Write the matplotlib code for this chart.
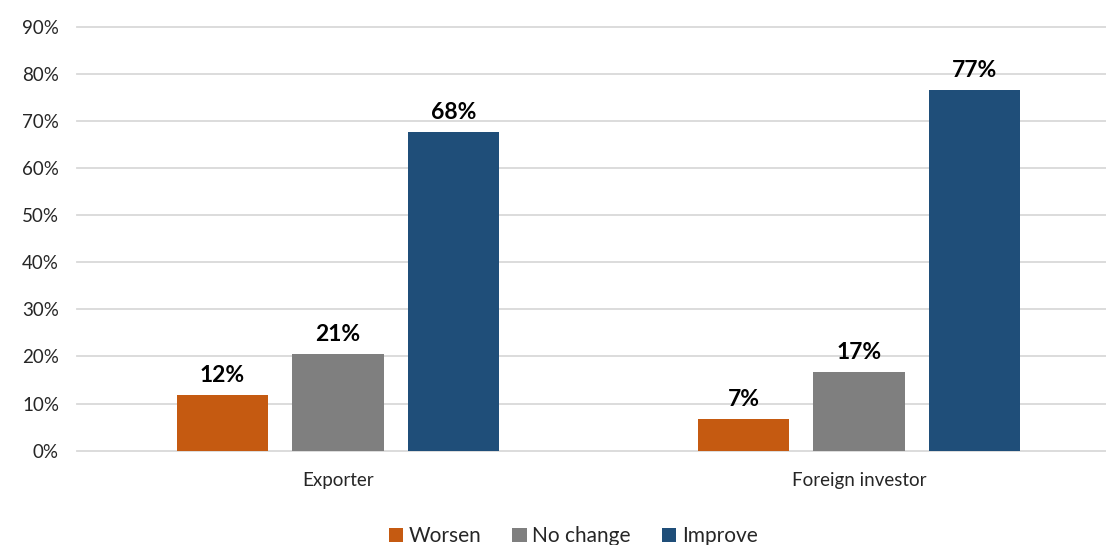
import matplotlib
matplotlib.use("Agg")
import matplotlib.pyplot as plt
from matplotlib.patches import Patch
import numpy as np

plt.rcParams["font.family"] = ["Lato", "DejaVu Sans"]

categories = ["Exporter", "Foreign investor"]
series = ["Worsen", "No change", "Improve"]
worsen = [0.119, 0.068]
no_change = [0.206, 0.168]
improve = [0.677, 0.766]
labels = [["12%", "7%"], ["21%", "17%"], ["68%", "77%"]]
colors = ["#C55A11", "#7F7F7F", "#1F4E79"]
yticks = [0.0, 0.1, 0.2, 0.3, 0.4, 0.5, 0.6, 0.7, 0.8, 0.9]

W, H = 1106, 545
fig = plt.figure(figsize=(W / 100, H / 100), dpi=100)
ax = fig.add_axes([77 / W, (H - 450.7) / H, (W - 77) / W, (450.7 - 26.7) / H])

x = np.arange(len(categories))
width = 0.175
step = 0.222
for i, (vals, name) in enumerate(zip([worsen, no_change, improve], series)):
    pos = x + (i - 1) * step
    ax.bar(pos, vals, width=width, color=colors[i], zorder=3, label=name)
    for p, v, lab in zip(pos, vals, labels[i]):
        ax.annotate(lab, (p, v), xytext=(0, 6), textcoords="offset points",
                    ha="center", va="bottom", fontsize=16.5, fontweight="bold", color="#000000")

ax.set_xlim(-0.501, 1.474)
ax.set_ylim(0, 0.9)
ax.set_yticks(yticks)
ax.set_yticklabels([f"{int(round(t * 100))}%" for t in yticks])
ax.set_xticks(x)
ax.set_xticklabels(categories)
for t in yticks:
    ax.axhline(t, color="#D9D9D9", linewidth=1.3, zorder=1, clip_on=False)
for s in ax.spines.values():
    s.set_visible(False)
ax.tick_params(axis="y", length=0, pad=13, labelsize=13.5, labelcolor="#262626")
ax.tick_params(axis="x", length=0, pad=15, labelsize=13.5, labelcolor="#262626")

handles = [Patch(facecolor=c, label=s) for c, s in zip(colors, series)]
fig.legend(handles=handles, loc="lower center", bbox_to_anchor=(573 / W, -0.037), ncol=3,
           frameon=False, fontsize=15, handlelength=0.7, handleheight=0.7,
           handletextpad=0.25, columnspacing=1.5, labelcolor="#262626")

fig.savefig("out.png", dpi=100)
